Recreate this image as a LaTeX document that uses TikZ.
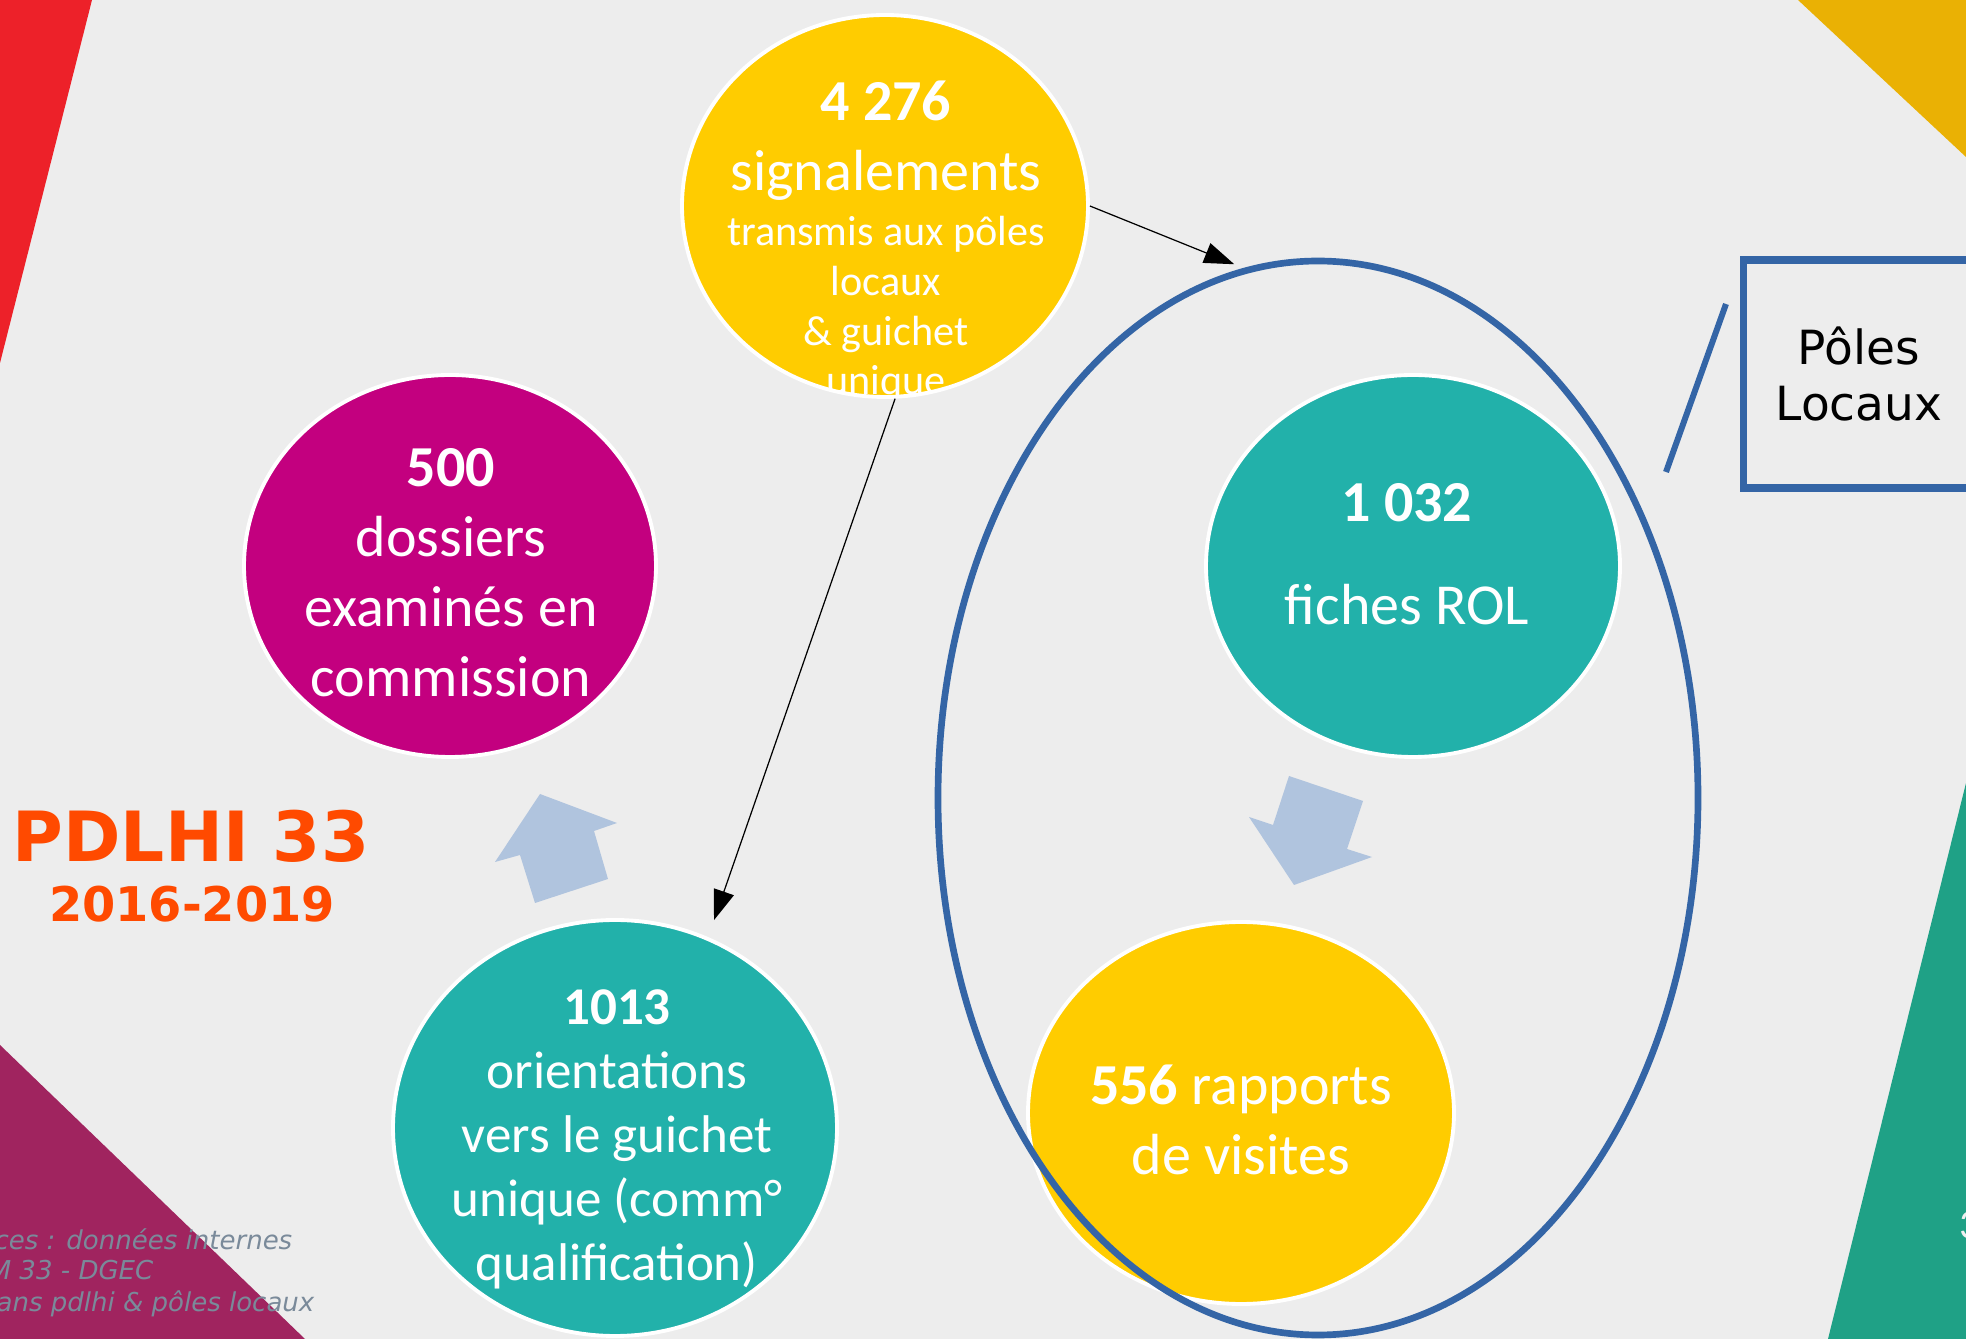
\documentclass[tikz,border=0pt]{standalone}
\usepackage{fontspec}
\setmainfont{Carlito}
\newfontfamily\dejavu{DejaVu Sans}
\usetikzlibrary{shapes.geometric, arrows.meta, positioning}
\definecolor{backdrop}{HTML}{EDEDED}
\definecolor{cornerred}{HTML}{ED2129}
\definecolor{cornergold}{HTML}{EAB104}
\definecolor{cornergreen}{HTML}{1FA186}
\definecolor{cornerplum}{HTML}{A0245F}
\definecolor{sun}{HTML}{FFCC00}
\definecolor{berry}{HTML}{C3007F}
\definecolor{lagoon}{HTML}{22B1AA}
\definecolor{frameblue}{HTML}{3465A6}
\definecolor{pale}{HTML}{B0C4DE}
\definecolor{titlered}{HTML}{FF4A00}
\definecolor{srcgrey}{HTML}{7A8A9A}
\newcommand{\fbig}{\fontsize{16.5pt}{19.9pt}\selectfont}
\newcommand{\fmid}{\fontsize{15.1pt}{18.2pt}\selectfont}
\newcommand{\fsmall}{\fontsize{12pt}{14.2pt}\selectfont}
\tikzset{
  disc/.style     = {ellipse, draw=white, line width=1.1pt, inner sep=0pt},
  disctext/.style = {text=white, align=center, inner sep=0pt, anchor=north, font=\fbig},
  flow/.style     = {-{Triangle[length=3mm, width=2.1mm]}, draw=black, line width=0.35pt},
  source/.style   = {font=\dejavu\itshape\fontsize{7.4pt}{8.8pt}\selectfont, text=srcgrey,
                     anchor=base east, inner sep=0pt},
}

\begin{document}
\begin{tikzpicture}[x=0.1mm, y=-0.1mm]
  \fill[backdrop] (0,0) rectangle (1966,1339);
  \useasboundingbox (0,0) rectangle (1966,1339);

  % corner pieces
  \fill[cornerred] (0,0) -- (92,0) -- (0,363) -- cycle;
  \fill[cornergold] (1798,0) -- (1966,0) -- (1966,157) -- cycle;
  \fill[cornergreen] (1966,783) -- (1966,1339) -- (1828,1339) -- cycle;
  \fill[cornerplum] (0,1045) -- (305,1339) -- (0,1339) -- cycle;

  % discs
  \node[disc, fill=sun, minimum width=40.6mm, minimum height=38.2mm] (c4276) at (885,206) {};
  \begin{scope}
    \clip (885,206) ellipse [x radius=20.1mm, y radius=18.9mm];
    \node[disctext] (t4276) at (886,80)
      {{\bfseries 4 276}\\ signalements\\[-1.5mm] \fsmall transmis aux pôles\\[-2mm]
       \fsmall locaux\\[-2mm] \fsmall \& guichet\\[-2mm] \fsmall unique};
  \end{scope}

  \node[disc, fill=berry, minimum width=41.2mm, minimum height=38.2mm] (c500) at (450,566) {};
  \node[disctext] (t500) at (451,448)
    {{\bfseries 500}\\ dossiers\\ examinés en\\ commission};

  \node[disc, fill=lagoon, minimum width=44.4mm, minimum height=41.6mm] (c1013) at (615,1128) {};
  \node[disctext, font=\fmid] (t1013) at (617,989)
    {{\bfseries 1013}\\ orientations\\ vers le guichet\\ unique (comm°\\ qualification)};

  \node[disc, fill=lagoon, minimum width=41.4mm, minimum height=38.2mm] (c1032) at (1413,566) {};
  \node[disctext] (t1032) at (1407,483) {{\bfseries 1 032}\\[3.3mm] fiches ROL};

  \node[disc, fill=sun, minimum width=42.6mm, minimum height=38.2mm] (c556) at (1241,1113) {};
  \node[disctext] (t556) at (1241,1064) {{\bfseries 556} rapports\\ de visites};

  % block arrows
  \fill[pale] (540,794) -- (617,823) -- (594,831) -- (608,879) -- (535,903)
    -- (520,855) -- (495,862) -- cycle;
  \fill[pale] (1289,776) -- (1363,801) -- (1347,849) -- (1372,857) -- (1294,885)
    -- (1249,817) -- (1273,825) -- cycle;

  % local poles
  \node[ellipse, draw=frameblue, line width=1.9pt, inner sep=0pt,
        minimum width=76mm, minimum height=107.4mm] (pl) at (1318,798) {};
  \node[draw=frameblue, line width=2pt, minimum width=23.2mm, minimum height=22.8mm,
        align=center, font=\dejavu\fontsize{13.4pt}{16.2pt}\selectfont] (pbox) at (1859,374)
    {Pôles\\Locaux};
  \coordinate (callA) at (1726,304);
  \coordinate (callB) at (1666,472);
  \draw[frameblue, line width=1.7pt] (callA) -- (callB);

  \draw[flow, shorten >=1mm] (c4276.east) -- (pl.98);
  \draw[flow, shorten >=1.8mm] (c4276.-87) -- (c1013.64);

  % title
  \node[font=\dejavu\bfseries\fontsize{19.7pt}{23pt}\selectfont, text=titlered,
        anchor=base, inner sep=0pt] (title) at (191,862) {PDLHI 33};
  \node[font=\dejavu\bfseries\fontsize{13.6pt}{16pt}\selectfont, text=titlered,
        anchor=base, inner sep=0pt] (years) at (192,922) {2016-2019};

  % sources
  \node[source] (src1) at (293,1250) {Sources : données internes};
  \node[source] (src2) at (154,1280) {DDTM 33 - DGEC};
  \node[source] (src3) at (315,1312) {Bilans pdlhi \& pôles locaux};

  \node[text=white!88!gray, anchor=west, inner sep=0pt,
        font=\fontsize{11.7pt}{14pt}\selectfont] (pgno) at (1959,1225) {3};
\end{tikzpicture}
\end{document}
